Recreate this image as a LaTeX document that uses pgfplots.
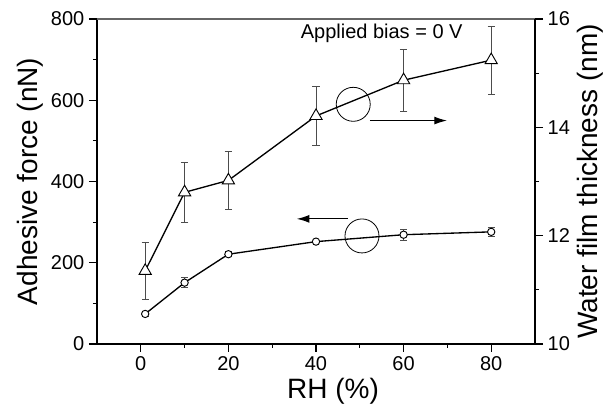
\documentclass[border=0pt]{standalone}
\usepackage{pgfplots}
\pgfplotsset{compat=1.18}
\usepackage{pgfplotstable}
\usepackage{fontspec}
\setmainfont{Liberation Sans}
\usetikzlibrary{arrows.meta}

\pgfplotstableread{
x y e
1 74 5
10 151 12
20 221 6
40 252 6
60 269 13
80 276 12
}\force
\pgfplotstableread{
x y e
1 11.35 0.52
10 12.80 0.55
20 13.02 0.53
40 14.21 0.55
60 14.87 0.57
80 15.24 0.63
}\film

\begin{document}
\begin{tikzpicture}
\pgfplotsset{
 every axis/.append style={
  width=328.5pt, height=243.75pt, scale only axis,
  xmin=-10, xmax=90,
  tick align=outside,
  major tick length=6pt, minor tick length=3pt,
  axis line style={line width=0.9pt},
  every tick/.style={black, line width=0.8pt},
  tick label style={font=\fontsize{15}{17}\selectfont},
  label style={font=\fontsize{21}{24}\selectfont},
  /pgf/number format/assume math mode=true,
 },
}
\begin{axis}[
  axis x line*=bottom, axis y line*=left,
  ymin=0, ymax=800,
  ytick={0,200,...,800}, xtick={0,20,...,80},
  minor x tick num=1, minor y tick num=1,
  xlabel={RH (\%)}, ylabel={Adhesive force (nN)},
  xlabel style={at={(axis description cs:0.539,-0.1446)}, anchor=center},
  ylabel style={at={(axis description cs:-0.153,0.5)}, anchor=center},
  clip=false,
]
\addplot[draw=none, mark=none, forget plot,
  error bars/.cd, y dir=both, y explicit,
  error bar style={black!70, line width=0.6pt},
  error mark options={rotate=90, mark size=2.5pt, black!70, line width=0.6pt}]
  table[x=x, y=y, y error=e] {\force};
\addplot[black, line width=1pt, mark=*, mark size=2.75pt,
  mark options={fill=white, draw=black, solid, line width=0.7pt}]
  table[x=x, y=y] {\force};
\draw[line width=0.6pt] (axis cs:48.5,590) circle[radius=12.75pt];
\draw[line width=0.9pt, -{Latex[length=9.5pt,width=6pt]}] (axis cs:52.3,550) -- (axis cs:69.9,550);
\draw[line width=0.6pt] (axis cs:50.5,266) circle[radius=12.75pt];
\draw[line width=0.9pt, -{Latex[length=9.5pt,width=6pt]}] (axis cs:47.3,308) -- (axis cs:35.6,308);
\node[font=\fontsize{15}{18}\selectfont] at (axis cs:55,765) {Applied bias = 0 V};
\coordinate (sw) at (rel axis cs:0,0);
\coordinate (ne) at (rel axis cs:1,1);
\end{axis}
\begin{axis}[
  axis x line*=top, axis y line*=right,
  xtick=\empty,
  x axis line style={black!60},
  ymin=10, ymax=16,
  ytick={10,12,14,16}, minor y tick num=1,
  ylabel={Water film thickness (nm)},
  ylabel style={at={(axis description cs:1.1256,0.5)}, anchor=center},
]
\addplot[draw=none, mark=none, forget plot,
  error bars/.cd, y dir=both, y explicit,
  error bar style={black!70, line width=0.6pt},
  error mark options={rotate=90, mark size=2.75pt, black!70, line width=0.6pt}]
  table[x=x, y=y, y error=e] {\film};
\addplot[black, line width=1pt, mark=triangle*, mark size=5.3pt,
  mark options={fill=white, draw=black, solid, line width=0.7pt}]
  table[x=x, y=y] {\film};
\end{axis}
\path ([shift={(-72.75pt,-49.5pt)}]sw) rectangle ([shift={(59.25pt,14.25pt)}]ne);
\end{tikzpicture}
\end{document}
